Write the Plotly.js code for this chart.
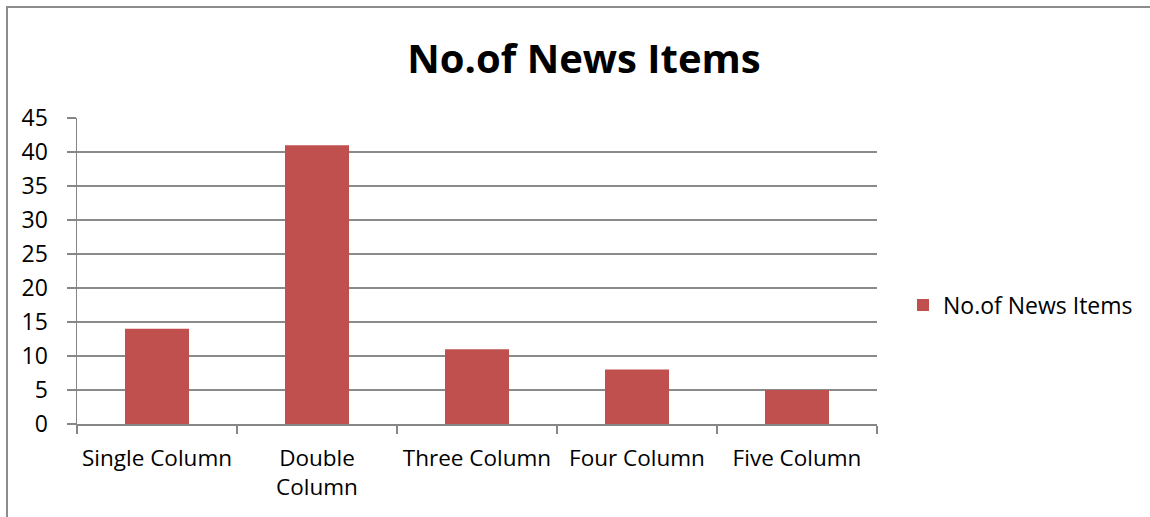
<!DOCTYPE html>
<html>
<head>
<meta charset="utf-8">
<script src="https://cdn.plot.ly/plotly-3.0.1.min.js"></script>
<style>
html,body{margin:0;padding:0;background:#fff;}
#chart{width:1150px;height:517px;}
</style>
</head>
<body>
<div id="chart"></div>
<script>
const categories = ["Single Column", "Double<br>Column", "Three Column", "Four Column", "Five Column"];
const values = [14, 41, 11, 8, 5];
const seriesName = "No.of News Items";
const chartTitle = "No.of News Items";
const yTicks = [0, 5, 10, 15, 20, 25, 30, 35, 40, 45];

const L = 77, R = 877, T = 118, B = 424, W = 1150, H = 517;
const px = x => (x - L) / (R - L);
const py = y => (B - y) / (B - T);

const font = "'Open Sans', 'Noto Sans', sans-serif";

Plotly.newPlot('chart', [{
  type: 'bar',
  x: categories,
  y: values,
  name: seriesName,
  marker: {color: '#C0504D'},
  showlegend: true
}], {
  width: W, height: H,
  margin: {l: L, r: W - R, t: T, b: H - B, pad: 0},
  paper_bgcolor: '#fff',
  plot_bgcolor: '#fff',
  font: {family: font, size: 23, color: '#000'},
  title: {
    text: '<b>' + chartTitle + '</b>',
    font: {family: font, size: 40, color: '#000'},
    x: 584 / W, xref: 'container', xanchor: 'center',
    y: 1 - 59 / H, yref: 'container', yanchor: 'middle'
  },
  bargap: 0.6,
  xaxis: {
    showline: true, linecolor: '#868686', linewidth: 1.5,
    ticks: 'outside', tickson: 'boundaries', ticklen: 8, tickcolor: '#868686', tickwidth: 1.5,
    showgrid: false, tickfont: {family: font, size: 22.5, color: '#000'},
    tickangle: 0, automargin: false,
    ticklabelstandoff: 13, fixedrange: true
  },
  yaxis: {
    range: [0, 45], tickvals: yTicks,
    showline: true, linecolor: '#868686', linewidth: 1.5,
    ticks: 'outside', ticklen: 9, tickcolor: '#868686', tickwidth: 1.5,
    showgrid: true, gridcolor: '#8a8a8a', gridwidth: 1.2,
    zeroline: false, automargin: false,
    tickfont: {family: font, size: 23, color: '#000'},
    ticklabelstandoff: 14, fixedrange: true
  },
  legend: {
    x: px(903), xanchor: 'left', y: py(305), yanchor: 'middle',
    font: {family: font, size: 23, color: '#000'},
    bgcolor: 'rgba(0,0,0,0)'
  },
  shapes: [{
    type: 'rect', xref: 'paper', yref: 'paper',
    x0: px(7), x1: px(1160), y0: py(530), y1: py(7),
    line: {color: '#8c8c8c', width: 2}, fillcolor: 'rgba(0,0,0,0)', layer: 'below'
  }]
}, {displayModeBar: false, staticPlot: true});
</script>
</body>
</html>
